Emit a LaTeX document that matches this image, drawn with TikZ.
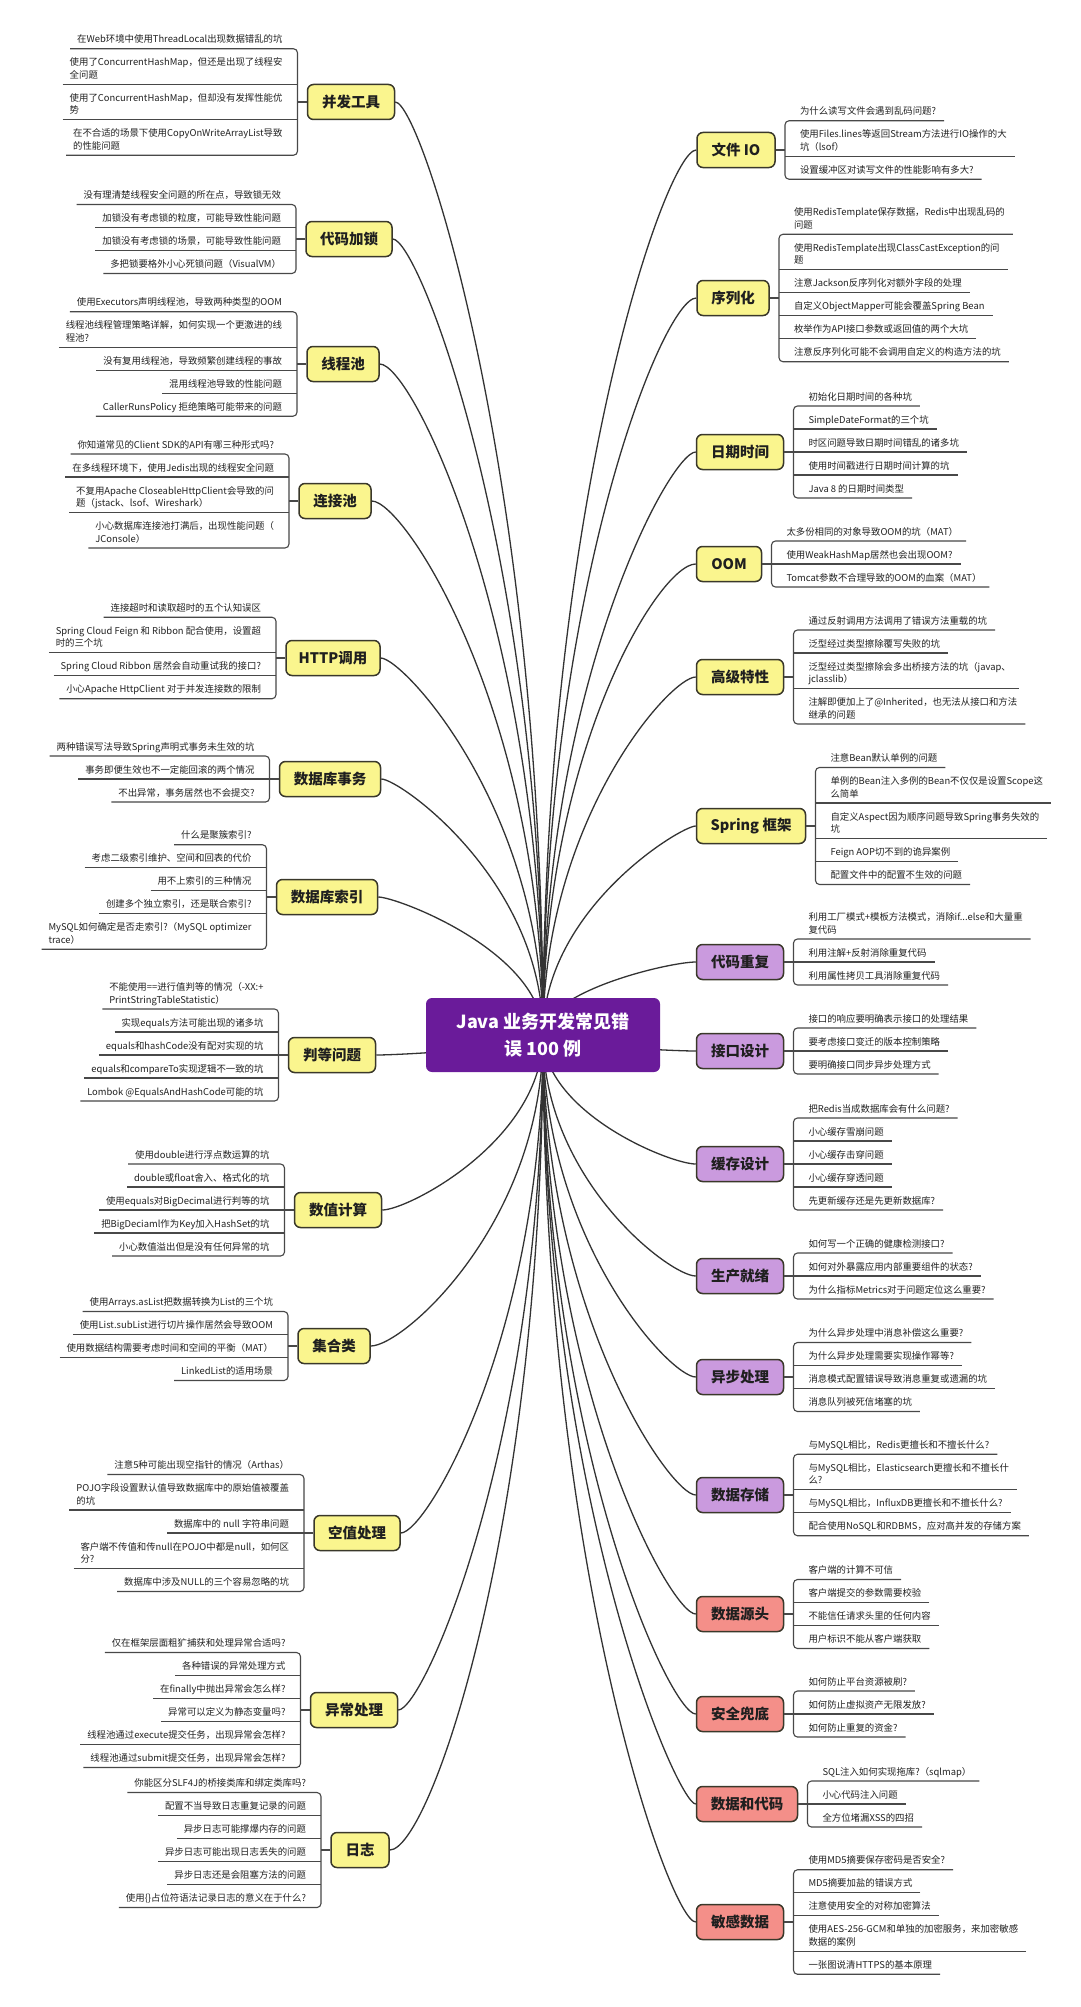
\documentclass[tikz,border=0pt]{standalone}
\usepackage{fontspec}
\setmainfont{Noto Sans CJK SC}
\usetikzlibrary{backgrounds,calc}
\definecolor{yel}{RGB}{250,245,142}
\definecolor{pur}{RGB}{202,154,222}
\definecolor{salm}{RGB}{244,143,137}
\definecolor{cen}{RGB}{106,27,154}
\definecolor{bord}{RGB}{58,56,42}
\definecolor{txt}{RGB}{34,34,34}
\definecolor{ucol}{RGB}{72,72,72}
\tikzset{
  topic/.style={draw=bord, line width=1.5pt, rounded corners=6pt, minimum height=35pt, inner sep=0pt,
    font=\fontsize{14.5}{16}\selectfont\bfseries, text=black!88},
  ytopic/.style={topic, fill=yel},
  ptopic/.style={topic, fill=pur},
  rtopic/.style={topic, fill=salm},
  leaf/.style={inner sep=0pt, outer sep=0pt, font=\fontsize{9.4}{12.5}\selectfont, text=txt},
  uline/.style={draw=ucol, line width=1.1pt},
  conn/.style={draw=black!80, line width=1.3pt},
}
\newcommand\twol[2]{\vtop{\baselineskip=12.5pt\lineskiplimit=-20pt\hbox{#1}\hbox{#2}}}
% #1 name, #2 style, #3 label, #4 cx, #5 cy, #6 width, #7 side, #8 items
\newcommand\mmBranch[8]{%
  \node[#2, minimum width=#6pt] (#1) at (#4,#5) {#3};
  \gdef\mmSpan{0}%
  \foreach \L/\T [count=\i] in {#8} {%
    \ifnum\i>1 \pgfmathsetmacro\mmTmp{\mmSpan+23+12.5*(\L-1)}\global\let\mmSpan\mmTmp\fi
  }%
  \pgfmathsetmacro\mmYs{#5-\mmSpan/2}%
  \pgfmathsetmacro\mmBx{#4+(#7)*(#6/2+10)}%
  \pgfmathsetmacro\mmTx{\mmBx+(#7)*15}%
  \global\let\mmY\mmYs
  \foreach \L/\T [count=\i] in {#8} {%
    \ifnum\i>1 \pgfmathsetmacro\mmTmp{\mmY+23+12.5*(\L-1)}\global\let\mmY\mmTmp\fi
    \pgfmathsetmacro\mmB{\mmY-6-12.5*(\L-1)}%
    \ifnum#7>0
      \node[leaf, anchor=base west] (#1-\i) at (\mmTx,\mmB) {\T};
      \coordinate (#1-e\i) at ($(#1-\i.east |- 0,\mmY)+(8,0)$);
    \else
      \node[leaf, anchor=base east] (#1-\i) at (\mmTx,\mmB) {\T};
      \coordinate (#1-e\i) at ($(#1-\i.west |- 0,\mmY)+(-7,0)$);
    \fi
    \coordinate (#1-b\i) at (\mmBx,\mmY);
    \xdef\mmN{\i}%
  }%
  \pgfmathtruncatemacro\mmNm{\mmN-1}%
  \foreach \j in {2,...,\mmNm} { \draw[uline] (#1-e\j) -- (#1-b\j); }
  \draw[uline, rounded corners=4pt] (#1-e1) -- (#1-b1) -- (#1-b\mmN) -- (#1-e\mmN);
  \draw[uline] (#1) -- (#1 -| #1-b1);
  \begin{pgfonlayer}{background}
    \pgfmathsetmacro\mmCy{#5+0.4*(1035-#5)}%
    \pgfmathsetmacro\mmDx{0-(#7)*70}%
    \draw[conn] (#1) .. controls +(\mmDx,0) and (543,\mmCy) .. (root.center);
  \end{pgfonlayer}
}
\begin{document}
\begin{tikzpicture}[x=1pt,y=-1pt]
\begin{pgfonlayer}{background}
\fill[white] (0,0) rectangle (1080,2007);
\end{pgfonlayer}
\useasboundingbox (0,0) rectangle (1080,2007);
\node[fill=cen, rounded corners=6pt, minimum width=234pt, minimum height=74pt, inner sep=0pt, text=white,
  font=\fontsize{18}{27}\selectfont\bfseries, align=center] (root) at (543,1035) {Java 业务开发常见错\\误 100 例};

% ---------------- left side ----------------
\mmBranch{L1}{ytopic}{并发工具}{351}{102}{87}{-1}{
1/{在Web环境中使用ThreadLocal出现数据错乱的坑},
2/{\twol{使用了ConcurrentHashMap，但还是出现了线程安}{全问题}},
2/{\twol{使用了ConcurrentHashMap，但却没有发挥性能优}{势}},
2/{\twol{在不合适的场景下使用CopyOnWriteArrayList导致}{的性能问题}}}

\mmBranch{L2}{ytopic}{代码加锁}{349}{239}{86}{-1}{
1/{没有理清楚线程安全问题的所在点，导致锁无效},
1/{加锁没有考虑锁的粒度，可能导致性能问题},
1/{加锁没有考虑锁的场景，可能导致性能问题},
1/{多把锁要格外小心死锁问题（VisualVM）}}

\mmBranch{L3}{ytopic}{线程池}{343}{364}{72}{-1}{
1/{使用Executors声明线程池，导致两种类型的OOM},
2/{\twol{线程池线程管理策略详解，如何实现一个更激进的线}{程池?}},
1/{没有复用线程池，导致频繁创建线程的事故},
1/{混用线程池导致的性能问题},
1/{CallerRunsPolicy 拒绝策略可能带来的问题}}

\mmBranch{L4}{ytopic}{连接池}{335}{501}{72}{-1}{
1/{你知道常见的Client SDK的API有哪三种形式吗?},
1/{在多线程环境下，使用Jedis出现的线程安全问题},
2/{\twol{不复用Apache CloseableHttpClient会导致的问}{题（jstack、lsof、Wireshark）}},
2/{\twol{小心数据库连接池打满后，出现性能问题（}{JConsole）}}}

\mmBranch{L5}{ytopic}{HTTP调用}{333}{658}{94}{-1}{
1/{连接超时和读取超时的五个认知误区},
2/{\twol{Spring Cloud Feign 和 Ribbon 配合使用，设置超}{时的三个坑}},
1/{Spring Cloud Ribbon 居然会自动重试我的接口?},
1/{小心Apache HttpClient 对于并发连接数的限制}}

\mmBranch{L6}{ytopic}{数据库事务}{330}{779}{101}{-1}{
1/{两种错误写法导致Spring声明式事务未生效的坑},
1/{事务即便生效也不一定能回滚的两个情况},
1/{不出异常，事务居然也不会提交?}}

\mmBranch{L7}{ytopic}{数据库索引}{327}{897}{101}{-1}{
1/{什么是聚簇索引?},
1/{考虑二级索引维护、空间和回表的代价},
1/{用不上索引的三种情况},
1/{创建多个独立索引，还是联合索引?},
2/{\twol{MySQL如何确定是否走索引?（MySQL optimizer}{trace）}}}

\mmBranch{L8}{ytopic}{判等问题}{332}{1055}{87}{-1}{
2/{\twol{不能使用==进行值判等的情况（-XX:+}{PrintStringTableStatistic）}},
1/{实现equals方法可能出现的诸多坑},
1/{equals和hashCode没有配对实现的坑},
1/{equals和compareTo实现逻辑不一致的坑},
1/{Lombok @EqualsAndHashCode可能的坑}}

\mmBranch{L9}{ytopic}{数值计算}{338}{1210}{87}{-1}{
1/{使用double进行浮点数运算的坑},
1/{double或float舍入、格式化的坑},
1/{使用equals对BigDecimal进行判等的坑},
1/{把BigDeciaml作为Key加入HashSet的坑},
1/{小心数值溢出但是没有任何异常的坑}}

\mmBranch{L10}{ytopic}{集合类}{334}{1346}{72}{-1}{
1/{使用Arrays.asList把数据转换为List的三个坑},
1/{使用List.subList进行切片操作居然会导致OOM},
1/{使用数据结构需要考虑时间和空间的平衡（MAT）},
1/{LinkedList的适用场景}}

\mmBranch{L11}{ytopic}{空值处理}{357}{1533}{86}{-1}{
1/{注意5种可能出现空指针的情况（Arthas）},
2/{\twol{POJO字段设置默认值导致数据库中的原始值被覆盖}{的坑}},
1/{数据库中的 null 字符串问题},
2/{\twol{客户端不传值和传null在POJO中都是null，如何区}{分?}},
1/{数据库中涉及NULL的三个容易忽略的坑}}

\mmBranch{L12}{ytopic}{异常处理}{354}{1710}{87}{-1}{
1/{仅在框架层面粗犷捕获和处理异常合适吗?},
1/{各种错误的异常处理方式},
1/{在finally中抛出异常会怎么样?},
1/{异常可以定义为静态变量吗?},
1/{线程池通过execute提交任务，出现异常会怎样?},
1/{线程池通过submit提交任务，出现异常会怎样?}}

\mmBranch{L13}{ytopic}{日志}{360}{1850}{58}{-1}{
1/{你能区分SLF4J的桥接类库和绑定类库吗?},
1/{配置不当导致日志重复记录的问题},
1/{异步日志可能撑爆内存的问题},
1/{异步日志可能出现日志丢失的问题},
1/{异步日志还是会阻塞方法的问题},
1/{使用\{\}占位符语法记录日志的意义在于什么?}}

% ---------------- right side ----------------
\mmBranch{R1}{ytopic}{文件 IO}{736}{150}{78}{1}{
1/{为什么读写文件会遇到乱码问题?},
2/{\twol{使用Files.lines等返回Stream方法进行IO操作的大}{坑（lsof）}},
1/{设置缓冲区对读写文件的性能影响有多大?}}

\mmBranch{R2}{ytopic}{序列化}{733}{298}{72}{1}{
2/{\twol{使用RedisTemplate保存数据，Redis中出现乱码的}{问题}},
2/{\twol{使用RedisTemplate出现ClassCastException的问}{题}},
1/{注意Jackson反序列化对额外字段的处理},
1/{自定义ObjectMapper可能会覆盖Spring Bean},
1/{枚举作为API接口参数或返回值的两个大坑},
1/{注意反序列化可能不会调用自定义的构造方法的坑}}

\mmBranch{R3}{ytopic}{日期时间}{740}{452}{87}{1}{
1/{初始化日期时间的各种坑},
1/{SimpleDateFormat的三个坑},
1/{时区问题导致日期时间错乱的诸多坑},
1/{使用时间戳进行日期时间计算的坑},
1/{Java 8 的日期时间类型}}

\mmBranch{R4}{ytopic}{OOM}{729}{564}{65}{1}{
1/{太多份相同的对象导致OOM的坑（MAT）},
1/{使用WeakHashMap居然也会出现OOM?},
1/{Tomcat参数不合理导致的OOM的血案（MAT）}}

\mmBranch{R5}{ytopic}{高级特性}{740}{677}{87}{1}{
1/{通过反射调用方法调用了错误方法重载的坑},
1/{泛型经过类型擦除覆写失败的坑},
2/{\twol{泛型经过类型擦除会多出桥接方法的坑（javap、}{jclasslib）}},
2/{\twol{注解即便加上了@Inherited，也无法从接口和方法}{继承的问题}}}

\mmBranch{R6}{ytopic}{Spring 框架}{751}{826}{109}{1}{
1/{注意Bean默认单例的问题},
2/{\twol{单例的Bean注入多例的Bean不仅仅是设置Scope这}{么简单}},
2/{\twol{自定义Aspect因为顺序问题导致Spring事务失效的}{坑}},
1/{Feign AOP切不到的诡异案例},
1/{配置文件中的配置不生效的问题}}

\mmBranch{R7}{ptopic}{代码重复}{740}{962}{87}{1}{
2/{\twol{利用工厂模式+模板方法模式，消除if...else和大量重}{复代码}},
1/{利用注解+反射消除重复代码},
1/{利用属性拷贝工具消除重复代码}}

\mmBranch{R8}{ptopic}{接口设计}{740}{1051}{87}{1}{
1/{接口的响应要明确表示接口的处理结果},
1/{要考虑接口变迁的版本控制策略},
1/{要明确接口同步异步处理方式}}

\mmBranch{R9}{ptopic}{缓存设计}{740}{1164}{87}{1}{
1/{把Redis当成数据库会有什么问题?},
1/{小心缓存雪崩问题},
1/{小心缓存击穿问题},
1/{小心缓存穿透问题},
1/{先更新缓存还是先更新数据库?}}

\mmBranch{R10}{ptopic}{生产就绪}{740}{1276}{87}{1}{
1/{如何写一个正确的健康检测接口?},
1/{如何对外暴露应用内部重要组件的状态?},
1/{为什么指标Metrics对于问题定位这么重要?}}

\mmBranch{R11}{ptopic}{异步处理}{740}{1377}{87}{1}{
1/{为什么异步处理中消息补偿这么重要?},
1/{为什么异步处理需要实现操作幂等?},
1/{消息模式配置错误导致消息重复或遗漏的坑},
1/{消息队列被死信堵塞的坑}}

\mmBranch{R12}{ptopic}{数据存储}{740}{1495}{87}{1}{
1/{与MySQL相比，Redis更擅长和不擅长什么?},
2/{\twol{与MySQL相比，Elasticsearch更擅长和不擅长什}{么?}},
1/{与MySQL相比，InfluxDB更擅长和不擅长什么?},
1/{配合使用NoSQL和RDBMS，应对高并发的存储方案}}

\mmBranch{R13}{rtopic}{数据源头}{740}{1614}{87}{1}{
1/{客户端的计算不可信},
1/{客户端提交的参数需要校验},
1/{不能信任请求头里的任何内容},
1/{用户标识不能从客户端获取}}

\mmBranch{R14}{rtopic}{安全兜底}{740}{1714}{87}{1}{
1/{如何防止平台资源被刷?},
1/{如何防止虚拟资产无限发放?},
1/{如何防止重复的资金?}}

\mmBranch{R15}{rtopic}{数据和代码}{747}{1804}{101}{1}{
1/{SQL注入如何实现拖库?（sqlmap）},
1/{小心代码注入问题},
1/{全方位堵漏XSS的四招}}

\mmBranch{R16}{rtopic}{敏感数据}{740}{1922}{87}{1}{
1/{使用MD5摘要保存密码是否安全?},
1/{MD5摘要加盐的错误方式},
1/{注意使用安全的对称加密算法},
2/{\twol{使用AES-256-GCM和单独的加密服务，来加密敏感}{数据的案例}},
1/{一张图说清HTTPS的基本原理}}
\end{tikzpicture}
\end{document}
